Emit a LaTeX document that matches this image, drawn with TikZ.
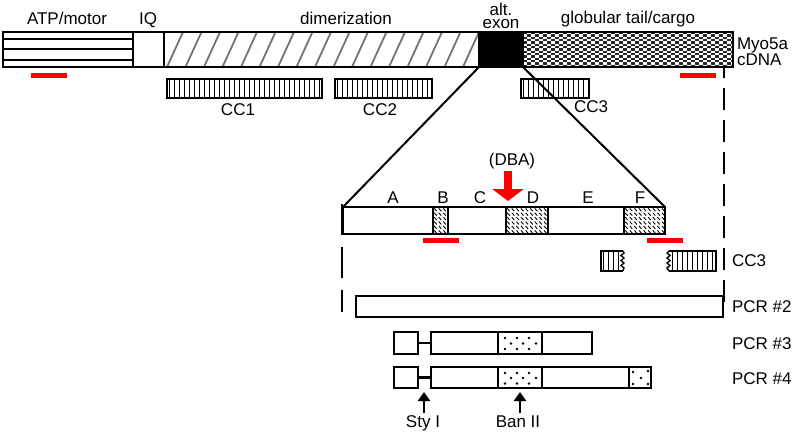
\documentclass[tikz,border=0pt]{standalone}
\usepackage{fontspec}
\setmainfont{Liberation Sans}
\usetikzlibrary{arrows.meta}

\newcommand\myvbarsfill[4]{%
  \begin{scope}
    \clip (#1,#2) rectangle (#3,#4);
    \foreach \k in {0,...,32} \draw[line width=1.1pt] (#1+2.5+\k*5,#2) -- (#1+2.5+\k*5,#4);
  \end{scope}}
\newcommand\myddashfill[4]{%
  \begin{scope}
    \clip (#1,#2) rectangle (#3,#4);
    \foreach \i in {0,...,6} \foreach \j in {0,...,10}
      \draw[line width=0.9pt] (#1+1.2+\j*4.6,#2+1.4+\i*4.4) -- ++(2.5,2.8);
  \end{scope}}

\begin{document}
\begin{tikzpicture}[x=1pt,y=-1pt,
  lab/.style={font=\fontsize{17}{19}\selectfont, inner sep=0pt, outer sep=0pt},
  seg/.style={draw, line width=1.5pt, inner sep=0pt, outer sep=0pt, anchor=north west},
  ccbox/.style={seg, minimum height=19pt},
  redbar/.style={fill=red, draw=none},
  thin/.style={line width=1.5pt},
  zoomline/.style={line width=2pt},
  dashl/.style={line width=2.2pt},
  blkarrow/.style={line width=2.4pt, -{Triangle[width=12pt,length=9pt]}},
  dot/.style={fill=black},
]
\useasboundingbox (0,0) rectangle (796,436);

% ---------- top bar ----------
\begin{scope}
  \clip (164,32) rectangle (479,67);
  \foreach \x in {130,148.5,...,490} \draw[black!55, line width=1.8pt] (\x,67) -- (\x+16,32);
\end{scope}
\begin{scope}
  \clip (523,32) rectangle (733,67);
  \foreach \i in {0,...,14} {
    \pgfmathsetmacro\off{mod(\i,2)*4}
    \foreach \j in {0,8,...,208}
      \fill[black!85] (523+\j+\off,32+\i*2.3333) rectangle ++(4,2.3333);
  }
\end{scope}
\node[seg, minimum width=130pt, minimum height=35pt] (atp) at (3,32) {};
\draw[line width=2pt] (3,39) -- (133,39) (3,49.5) -- (133,49.5) (3,60) -- (133,60);
\node[seg, minimum width=31pt, minimum height=35pt, line width=2.5pt] (iq) at (133,32) {};
\node[seg, minimum width=315pt, minimum height=35pt] (dim) at (164,32) {};
\node[seg, fill=black, minimum width=44pt, minimum height=35pt] (alt) at (479,32) {};
\node[seg, minimum width=210pt, minimum height=35pt] (glob) at (523,32) {};

\node[lab, anchor=base] (tatp) at (67,25) {ATP/motor};
\node[lab, anchor=base] (tiq) at (148,25) {IQ};
\node[lab, anchor=base] (tdim) at (346,25) {dimerization};
\node[lab, anchor=base, text depth=0pt] (talt) at (501,15.5) {alt.};
\node[lab, anchor=base, text height=9pt] (texon) at (501,28.5) {exon};
\node[lab, anchor=base] (tglob) at (628,24) {globular tail/cargo};
\node[lab, anchor=base west, text depth=0pt] (tmyo) at (737,49.5) {Myo5a};
\node[lab, anchor=base west, text height=12pt] (tcdna) at (737,65.5) {cDNA};

% red probes (top)
\fill[redbar] (31,73) rectangle (67,78);
\fill[redbar] (680,73) rectangle (716,78);

% CC boxes
\myvbarsfill{167}{79}{322}{98}
\myvbarsfill{335}{79}{432}{98}
\myvbarsfill{521}{79}{589}{98}
\node[ccbox, minimum width=155pt] (cc1) at (167,79) {};
\node[ccbox, minimum width=97pt] (cc2) at (335,79) {};
\node[ccbox, minimum width=68pt] (cc3) at (521,79) {};
\node[lab, anchor=base] (tcc1) at (238,115) {CC1};
\node[lab, anchor=base] (tcc2) at (380,115) {CC2};
\node[lab, anchor=base] (tcc3) at (591,113) {CC3};

% ---------- expanded exon ----------
\myddashfill{433}{207}{448}{234}
\myddashfill{506}{207}{548}{234}
\myddashfill{624}{207}{665}{234}
\node[seg, minimum width=322pt, minimum height=27pt] (exp) at (343,207) {};
\draw[line width=1.8pt] (433,207) -- (433,234) (448,207) -- (448,234)
  (506,207) -- (506,234) (548,207) -- (548,234) (624,207) -- (624,234);

\draw[zoomline] (alt.south west) -- (exp.north west);
\draw[zoomline] (alt.south east) -- (exp.north east);

\foreach \l/\x in {A/393,B/443,C/480,D/533,E/588,F/640}
  \node[lab, anchor=base] (t\l) at (\x,203) {\l};

\node[lab, anchor=base] (tdba) at (512,165.5) {(DBA)};
\coordinate (dbatail) at (508,171);
\coordinate (dbatip) at (508,201);
\draw[red, line width=8pt, -{Triangle[width=31pt,length=12pt]}] (dbatail) -- (dbatip);

\fill[redbar] (423,238) rectangle (459,243);
\fill[redbar] (647,238) rectangle (683,243);

% ---------- CC3 pieces ----------
\myvbarsfill{601}{251}{621}{271}
\draw[thin] (623,251) -- (601,251) -- (601,271) -- (623,271);
\draw[line width=1.4pt] (623,251) -- (624,253) -- (621,255.5) -- (624,258) -- (621,260.5) -- (624,263) -- (621,265.5) -- (624,268) -- (623,271);
\myvbarsfill{670}{251}{716}{271}
\draw[thin] (669,251) -- (716,251) -- (716,271) -- (669,271);
\draw[line width=1.4pt] (669,251) -- (667,253) -- (670,255.5) -- (667,258) -- (670,260.5) -- (667,263) -- (670,265.5) -- (667,268) -- (669,271);
\node[lab, anchor=base west] (tcc3b) at (732,266) {CC3};

% ---------- dashed guide lines ----------
\coordinate (dr0) at (724,67);
\coordinate (dr1) at (724,309);
\draw[dashl, dash pattern=on 22pt off 10pt, dash phase=11pt] (dr0) -- (dr1);
\coordinate (dl0) at (342,204);
\coordinate (dl1) at (342,312);
\draw[dashl, dash pattern=on 31pt off 12pt] (dl0) -- (dl1);

% ---------- PCR products ----------
\node[seg, minimum width=367pt, minimum height=21pt] (pcr2) at (356,296) {};
\node[lab, anchor=base west] (tpcr2) at (732,312) {PCR \#2};

% PCR #3
\node[seg, minimum width=24pt, minimum height=22pt] (s3) at (394,332) {};
\node[seg, minimum width=161pt, minimum height=22pt] (m3) at (431,332) {};
\draw[line width=2.8pt] (s3.east) -- (m3.west);
\draw[line width=1.5pt] (498,332) -- (498,354) (542,332) -- (542,354);
\foreach \x/\y in {505/338,517/338,529/338,511/343.5,523/343.5,536/343.5,505/349,517/349,529/349}
  \fill[dot] (\x,\y) circle (1.3pt);
\node[lab, anchor=base west] (tpcr3) at (732,349) {PCR \#3};

% PCR #4
\node[seg, minimum width=24pt, minimum height=21pt] (s4) at (394,367) {};
\node[seg, minimum width=220pt, minimum height=21pt] (m4) at (431,367) {};
\draw[line width=2.8pt] (s4.east) -- (m4.west);
\draw[line width=1.5pt] (498,367) -- (498,388) (542,367) -- (542,388) (629,367) -- (629,388);
\foreach \x/\y in {505/373,517/373,529/373,511/378,523/378,536/378,505/383.5,517/383.5,529/383.5,
  633/372,648/371,641/378,633/384,648/384}
  \fill[dot] (\x,\y) circle (1.3pt);
\node[lab, anchor=base west] (tpcr4) at (732,384) {PCR \#4};

% restriction sites
\node[lab, anchor=base] (tsty) at (423,427) {Sty I};
\node[lab, anchor=base] (tban) at (518,427) {Ban II};
\coordinate (stybot) at (424,413);
\coordinate (stytop) at (424,392);
\coordinate (banbot) at (520,413);
\coordinate (bantop) at (520,392);
\draw[blkarrow] (stybot) -- (stytop);
\draw[blkarrow] (banbot) -- (bantop);
\end{tikzpicture}
\end{document}
